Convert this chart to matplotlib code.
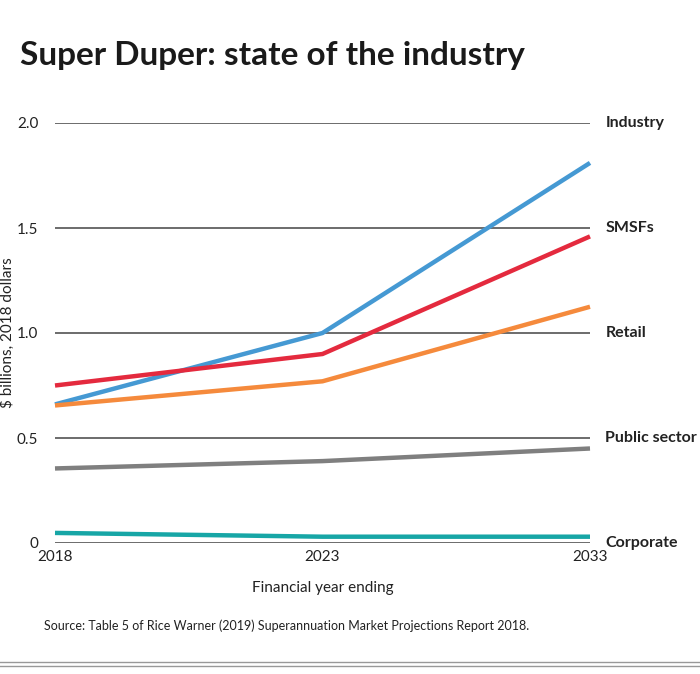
import matplotlib
matplotlib.use("Agg")
import matplotlib.pyplot as plt
from matplotlib.lines import Line2D

years = ["2018", "2023", "2033"]
industry = [0.66, 1.00, 1.81]
smsfs = [0.75, 0.90, 1.46]
retail = [0.655, 0.77, 1.125]
public_sector = [0.355, 0.39, 0.45]
corporate = [0.048, 0.03, 0.03]

names = ["Industry", "SMSFs", "Retail", "Public sector", "Corporate"]
label_y = [2.0, 1.5, 1.0, 0.5, 0.0]
colors = ["#4599d3", "#e42a3e", "#f58a3c", "#7f7f7f", "#17a6a6"]

plt.rcParams["font.family"] = ["Lato", "DejaVu Sans"]

fig = plt.figure(figsize=(7, 6.74), dpi=100)
ax = fig.add_axes([55 / 700, 1 - 543 / 674, 535 / 700, 420 / 674])

x = list(range(len(years)))
for vals, c in zip([industry, smsfs, retail, public_sector, corporate], colors):
    ax.plot(x, vals, color=c, lw=3.2, solid_capstyle="butt", clip_on=False, zorder=3)

ax.set_xlim(0, 2)
ax.set_ylim(0, 2)
ax.set_yticks([0, 0.5, 1.0, 1.5, 2.0])
ax.set_yticklabels(["0", "0.5", "1.0", "1.5", "2.0"])
ax.set_xticks(x)
ax.set_xticklabels(years)
ax.tick_params(axis="both", length=0, labelsize=11, colors="#222222")
ax.tick_params(axis="y", pad=12)
ax.tick_params(axis="x", pad=5)
for yv in [0, 0.5, 1.0, 1.5, 2.0]:
    ax.axhline(yv, color="#444444", lw=1.1, zorder=1)
for s in ax.spines.values():
    s.set_visible(False)

ax.set_ylabel("$ billions, 2018 dollars", fontsize=11, color="#222222")
ax.yaxis.set_label_coords(-40 / 535, 0.5)
ax.set_xlabel("Financial year ending", fontsize=11, color="#222222", labelpad=12)

for name, yv in zip(names, label_y):
    ax.annotate(name, xy=(2, yv), xytext=(11, 0), textcoords="offset points",
                ha="left", va="center", fontsize=11.5, fontweight="bold",
                color="#222222", annotation_clip=False)

fig.text(20 / 700, 1 - 55 / 674, "Super Duper: state of the industry",
         fontsize=24, fontweight="bold", color="#1a1a1a", ha="left", va="center")
fig.text(44 / 700, 1 - 626 / 674,
         "Source: Table 5 of Rice Warner (2019) Superannuation Market Projections Report 2018.",
         fontsize=9, color="#222222", ha="left", va="center")

for yy in [662, 666]:
    fig.add_artist(Line2D([0, 1], [1 - yy / 674, 1 - yy / 674], color="#999999", lw=1.0))

fig.savefig("out.png", dpi=100)
